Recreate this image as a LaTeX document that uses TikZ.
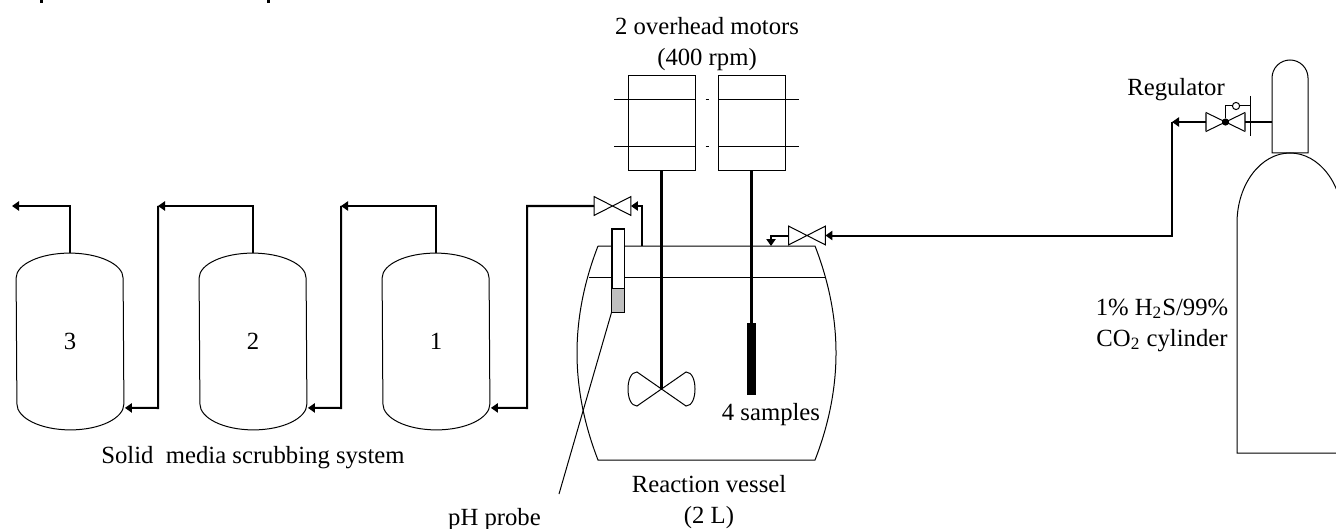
\documentclass[tikz,border=0pt]{standalone}
\usepackage{fontspec}
\setmainfont{Liberation Serif}
\usetikzlibrary{arrows.meta,calc}

\begin{document}
\begin{tikzpicture}[
    x=0.5pt,y=-0.5pt,
    >={Stealth[length=3.5pt,width=4.6pt,inset=0pt]},
    thin line/.style={line width=0.5pt},
    pipe/.style={line width=1pt},
    shaft/.style={line width=1.6pt},
    tank/.style={minimum width=53.5pt,minimum height=62.5pt,inner sep=0pt},
    label/.style={align=center,inner sep=0pt,font=\fontsize{12.35}{15.5}\selectfont},
    valve/.style={minimum width=18pt,minimum height=9pt,inner sep=0pt}
]
\useasboundingbox (0,0) rectangle (1336,529);
\clip (0,0) rectangle (1336,529);

% cut off title
\fill (40,0) rectangle (43,3);
\fill (267,0) rectangle (270,3);

% scrubbers
\foreach \name/\xpos/\num in {tank3/70/3,tank2/253/2,tank1/436/1} {
    \node[tank,label] (\name) at (\xpos,341) {\num};
    \draw[thin line] (\name.north west) arc[start angle=180,end angle=0,x radius=26.75pt,y radius=12.5pt]
        -- (\name.south east) arc[start angle=0,end angle=-180,x radius=26.75pt,y radius=13pt] -- cycle;
    \coordinate (\name top) at ($(\name.north)+(0,-25)$);
    \coordinate (\name in) at ($(\name.south east)+(1,4)$);
}
\node[label] (scrublabel) at (253,458) {Solid\ \ media scrubbing system};

% reaction vessel
\coordinate (vesselTL) at (598,246);
\coordinate (vesselTR) at (815,246);
\coordinate (vesselBR) at (815,460);
\coordinate (vesselBL) at (598,460);
\draw[thin line] (vesselTL) -- (vesselTR) .. controls (829,282) and (836,318) .. (836,353)
    .. controls (836,388) and (829,424) .. (vesselBR) -- (vesselBL)
    .. controls (584,424) and (577,388) .. (577,353) .. controls (577,318) and (584,282) .. (vesselTL);
\draw[thin line] (589,277) -- (826,277);
\node[label] (vessellabel) at (709,502.5) {Reaction vessel\\(2 L)};
\node[label] (samplelabel) at (771,415) {4 samples};

% pH probe
\node[draw,thin line,fill=white,minimum width=6pt,minimum height=41.5pt,inner sep=0pt] (probe) at (618,270.5) {};
\fill[gray!50] (probe.south west) rectangle ($(probe.south east)+(0,-24)$);
\draw[thin line] (probe.south west) rectangle (probe.north east);
\draw[thin line] ($(probe.south west)+(0,-24)$) -- ($(probe.south east)+(0,-24)$);
\node[label] (probelabel) at (494.5,520) {pH probe};
\coordinate (probeend) at (559,494);
\draw[thin line] (probe.south west) -- (probeend);

% motors
\foreach \name/\xpos in {motorA/661.5,motorB/751.5} {
    \node[draw,thin line,minimum width=33.5pt,minimum height=47.5pt,inner sep=0pt] (\name) at (\xpos,123.5) {};
}
\foreach \ypos in {100,147} {
    \draw[thin line] (614,\ypos) -- (695,\ypos);
    \draw[thin line] (705.5,\ypos) -- (709,\ypos);
    \draw[thin line] (718,\ypos) -- (799,\ypos);
}
\node[label] (motorlabel) at (707,44) {2 overhead motors\\(400 rpm)};

% stirrer
\coordinate (hub) at (661.5,389);
\draw[shaft] (motorA.south) -- (hub);
\draw[thin line] (hub) -- (637,372) .. controls (631,372) and (628,380) .. (628,389)
    .. controls (628,398) and (631,406) .. (637,406) -- (hub)
    -- (686,372) .. controls (692,372) and (695,380) .. (695,389)
    .. controls (695,398) and (692,406) .. (686,406) -- (hub);

% sample holder
\coordinate (holdertop) at (751.5,323);
\draw[shaft] (motorB.south) -- (holdertop);
\fill (747,323) rectangle (756,395);

% outlet valve
\node[valve] (valveout) at (612.5,206) {};
\draw[thin line] (valveout.north west) -- (valveout.south east) -- (valveout.north east)
    -- (valveout.south west) -- cycle;
\coordinate (outlet) at (642,246);
\coordinate (outcorner) at (642,206);
\draw[pipe,->] (outlet) -- (outcorner) -- (valveout.east);

% inlet valve
\node[valve] (valvein) at (807,235.5) {};
\draw[thin line] (valvein.north west) -- (valvein.south east) -- (valvein.north east)
    -- (valvein.south west) -- cycle;
\coordinate (incorner) at (771,235.5);
\coordinate (inlet) at (771,246);
\draw[pipe,->] (valvein.west) -- (incorner) -- (inlet);

% scrubber train
\coordinate (a1) at (527,206);
\coordinate (a2) at (527,408);
\draw[pipe,->] (valveout.west) -- (a1) -- (a2) -- (tank1in);
\coordinate (b1) at (436,206);
\coordinate (b2) at (341,206);
\coordinate (b3) at (341,408);
\draw[pipe,->] (tank1top) -- (b1) -- (b2);
\draw[pipe,->] (b2) -- (b3) -- (tank2in);
\coordinate (c1) at (253,206);
\coordinate (c2) at (158,206);
\coordinate (c3) at (158,408);
\draw[pipe,->] (tank2top) -- (c1) -- (c2);
\draw[pipe,->] (c2) -- (c3) -- (tank3in);
\coordinate (d1) at (70,206);
\coordinate (d2) at (12,206);
\draw[pipe,->] (tank3top) -- (d1) -- (d2);

% cylinder
\coordinate (neckL) at (1272,153);
\coordinate (neckR) at (1308,153);
\draw[thin line] (neckL) -- (1272,78) arc[start angle=180,end angle=0,radius=9pt] -- (neckR) -- cycle;
\draw[thin line] (1336,453) -- (1237,453) -- (1237,223)
    arc[start angle=180,end angle=0,x radius=26.5pt,y radius=35pt];
\node[label] (gaslabel) at (1162,325) {1\% H\textsubscript{2}S/99\%\\CO\textsubscript{2} cylinder};

% regulator
\node[valve,minimum width=19pt] (reg) at (1225.5,122) {};
\draw[thin line] (reg.north west) -- (reg.south east) -- (reg.north east)
    -- (reg.south west) -- cycle;
\draw[line width=1pt,gray!70!black] (reg.north west) -- (reg.south west);
\draw[line width=1pt,gray!70!black] (reg.north east) -- (reg.south east);
\node[circle,fill=black,minimum size=3.6pt,inner sep=0pt] (regdot) at (reg.center) {};
\coordinate (regbar) at (1250,122);
\coordinate (regstem) at (1225.5,106);
\draw[thin line] ($(regbar)+(0,-26)$) -- ($(regbar)+(0,14)$);
\draw[thin line] (regdot) -- (regstem) -- (1250,106);
\node[circle,draw,thin line,fill=white,minimum size=3.6pt,inner sep=0pt] (reggauge) at (1236,106) {};
\node[label] (reglabel) at (1176,90) {Regulator};
\coordinate (neckport) at (1272,122);
\draw[pipe] (neckport) -- (reg.east);
\coordinate (e1) at (1172,122);
\coordinate (e2) at (1172,235.5);
\draw[pipe,->] (reg.west) -- (e1);
\draw[pipe,->] (e1) -- (e2) -- (valvein.east);
\end{tikzpicture}
\end{document}
